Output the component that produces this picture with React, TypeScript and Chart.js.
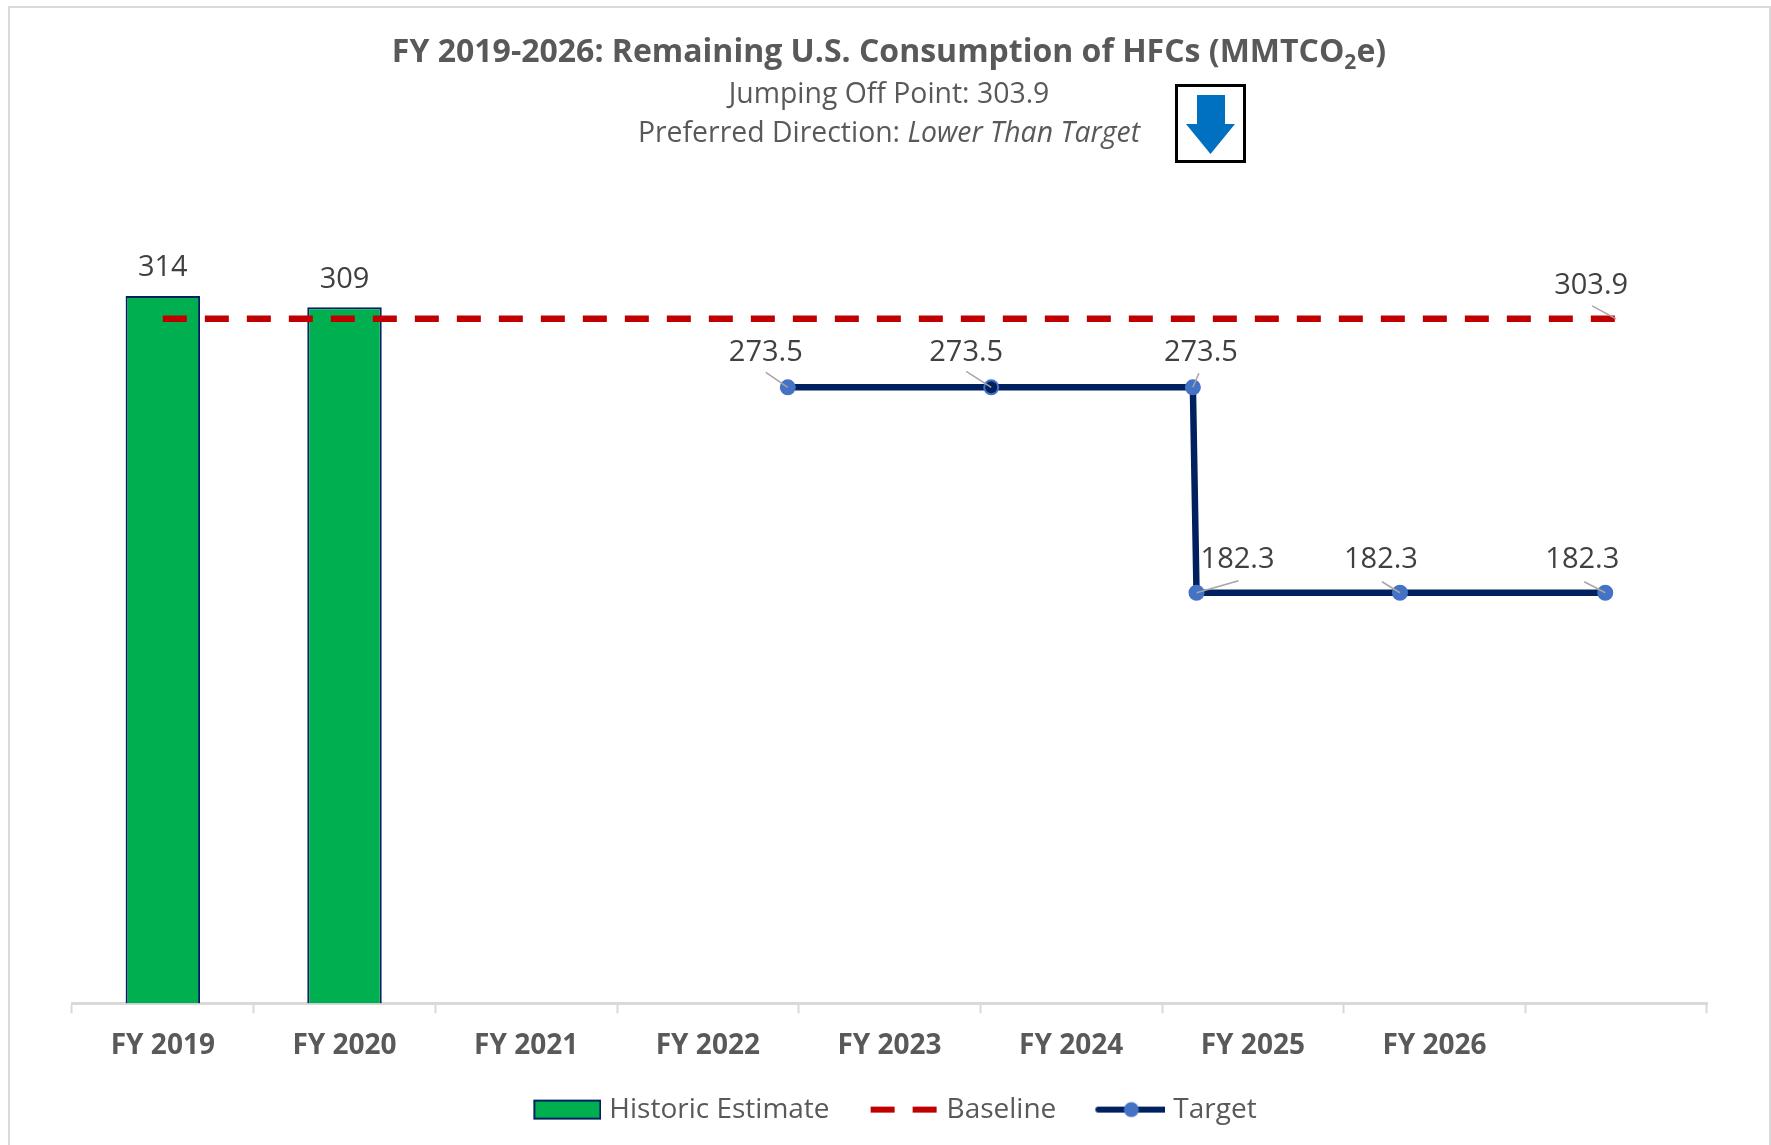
import React, { useEffect, useRef } from "react";
import { Chart, registerables } from "chart.js";

Chart.register(...registerables);

const categories = ["FY 2019", "FY 2020", "FY 2021", "FY 2022", "FY 2023", "FY 2024", "FY 2025", "FY 2026", ""];
const historicEstimate = [314, 309, null, null, null, null, null, null, null];
const baseline = [303.9, 303.9, 303.9, 303.9, 303.9, 303.9, 303.9, 303.9, 303.9];
const targetX = [3.44, 4.56, 5.67, 5.69, 6.81, 7.94];
const targetY = [273.5, 273.5, 273.5, 182.3, 182.3, 182.3];

const FONT = '"Open Sans", sans-serif';
const NAVY = "#002060";
const MARKER = "#4472c4";
const RED = "#c00000";
const GREEN = "#00b050";

// label placement relative to each point: [label dx, label dy, leader dx, leader dy]
const barLabelOffset = [0, -28];
const baselineLabel = [-25, -33, -24, -13];
const targetLabels = [
  [-22, -35, -22, -15],
  [-25, -35, -25, -16],
  [8, -35, 6, -14],
  [41, -33, 42, -12],
  [-19, -33, -18, -11],
  [-23, -33, -21, -11],
];

function swatch(draw: (c: CanvasRenderingContext2D) => void) {
  const cv = document.createElement("canvas");
  cv.width = 97;
  cv.height = 26;
  const c = cv.getContext("2d")!;
  c.translate(27, 0);
  draw(c);
  return cv;
}

const labelPlugin = {
  id: "pointLabels",
  afterDatasetsDraw(chart: any) {
    const { ctx } = chart;
    ctx.save();
    ctx.font = `29px ${FONT}`;
    ctx.fillStyle = "#404040";
    ctx.textAlign = "center";
    ctx.textBaseline = "middle";
    const text = (v: number, d: number) => v.toFixed(d);
    const leader = (x: number, y: number, lx: number, ly: number) => {
      ctx.strokeStyle = "#a6a6a6";
      ctx.lineWidth = 1.5;
      ctx.beginPath();
      ctx.moveTo(x, y);
      ctx.lineTo(x + lx, y + ly);
      ctx.stroke();
    };
    chart.getDatasetMeta(0).data.forEach((el: any, i: number) => {
      const v = historicEstimate[i];
      if (v == null) return;
      ctx.fillText(text(v, 0), el.x + barLabelOffset[0], el.y + barLabelOffset[1]);
    });
    const last = chart.getDatasetMeta(1).data[baseline.length - 1];
    leader(last.x, last.y, baselineLabel[2], baselineLabel[3]);
    ctx.fillText(text(baseline[baseline.length - 1], 1), last.x + baselineLabel[0], last.y + baselineLabel[1]);
    chart.getDatasetMeta(2).data.forEach((el: any, i: number) => {
      const o = targetLabels[i];
      leader(el.x, el.y, o[2], o[3]);
      ctx.fillText(text(targetY[i], 1), el.x + o[0], el.y + o[1]);
    });
    ctx.restore();
  },
};

const legendShift = {
  id: "legendShift",
  afterLayout(chart: any) {
    const l = chart.legend;
    l.left -= 6;
    l.right -= 6;
    l.top -= 1.4;
    l.bottom -= 1.4;
  },
};

export default function App() {
  const ref = useRef<HTMLCanvasElement>(null);
  useEffect(() => {
    const swatches = [
      swatch((c) => {
        c.fillStyle = GREEN;
        c.strokeStyle = NAVY;
        c.lineWidth = 2;
        c.fillRect(3, 4, 66, 18);
        c.strokeRect(3, 4, 66, 18);
      }),
      swatch((c) => {
        c.fillStyle = RED;
        c.fillRect(2, 10, 24, 6);
        c.fillRect(44, 10, 24, 6);
      }),
      swatch((c) => {
        c.strokeStyle = NAVY;
        c.lineWidth = 6;
        c.lineCap = "round";
        c.beginPath();
        c.moveTo(3, 13);
        c.lineTo(69, 13);
        c.stroke();
        c.fillStyle = MARKER;
        c.beginPath();
        c.arc(36, 13, 7.5, 0, Math.PI * 2);
        c.fill();
      }),
    ];
    const chart = new Chart(ref.current!, {
      type: "bar",
      data: {
        labels: categories,
        datasets: [
          {
            label: "Historic Estimate",
            data: historicEstimate,
            backgroundColor: GREEN,
            borderColor: NAVY,
            borderWidth: 2,
            grouped: false,
            categoryPercentage: 1,
            barPercentage: 0.41,
            order: 3,
          },
          {
            type: "line",
            label: "Baseline",
            data: baseline,
            borderColor: RED,
            backgroundColor: RED,
            borderWidth: 6.5,
            borderDash: [24, 18],
            pointRadius: 0,
            fill: false,
            order: 2,
          },
          {
            type: "line",
            label: "Target",
            xAxisID: "x2",
            data: targetX.map((x, i) => ({ x, y: targetY[i] })),
            borderColor: NAVY,
            backgroundColor: MARKER,
            borderWidth: 6.5,
            tension: 0,
            pointRadius: 7,
            pointBorderWidth: 2,
            pointBorderColor: MARKER,
            pointBackgroundColor: [MARKER, NAVY, MARKER, MARKER, MARKER, MARKER],
            fill: false,
            order: 1,
          },
        ] as any,
      },
      options: {
        responsive: false,
        animation: false,
        layout: { padding: { left: 72, right: 64, top: 215, bottom: 10 } },
        scales: {
          x: {
            type: "category",
            offset: true,
            grid: {
              offset: true,
              drawOnChartArea: false,
              drawTicks: true,
              tickLength: 10,
              tickColor: "#d9d9d9",
              tickWidth: 2,
            },
            border: { color: "#d9d9d9", width: 3 },
            ticks: {
              color: "#595959",
              font: { family: FONT, size: 28, weight: "bold" },
              padding: 16,
              maxRotation: 0,
              autoSkip: false,
            },
          },
          x2: { type: "linear", display: false, offset: false, min: -0.5, max: 8.5 },
          y: { display: false, min: 0, max: 350 },
        },
        plugins: {
          title: { display: false },
          tooltip: { enabled: false },
          legend: {
            display: true,
            position: "bottom",
            labels: {
              usePointStyle: true,
              pointStyleWidth: 85,
              color: "#595959",
              font: { family: FONT, size: 28 },
              padding: 18,
              generateLabels: (c: any) =>
                Chart.defaults.plugins.legend.labels
                  .generateLabels(c)
                  .sort((a: any, b: any) => a.datasetIndex - b.datasetIndex)
                  .map((it: any, i: number) => ({
                    ...it,
                    pointStyle: swatches[i],
                    fontColor: "#595959",
                  })),
            },
          },
        },
      } as any,
      plugins: [labelPlugin, legendShift],
    } as any);
    return () => chart.destroy();
  }, []);

  const center: React.CSSProperties = {
    position: "absolute",
    left: 0,
    width: 1782,
    textAlign: "center",
    fontFamily: FONT,
    color: "#595959",
    whiteSpace: "nowrap",
  };

  return (
    <div style={{ position: "fixed", left: 0, top: 0, width: 1771, height: 1145, background: "#fff", overflow: "hidden" }}>
      <div
        style={{
          position: "absolute",
          left: 8,
          top: 6,
          width: 1759,
          height: 1200,
          border: "2px solid #d9d9d9",
        }}
      />
      <canvas ref={ref} width={1771} height={1145} style={{ position: "absolute", left: 0, top: 0 }} />
      <div style={{ ...center, top: 28, left: -2, fontSize: 32, fontWeight: 700, lineHeight: "44px" }}>
        FY 2019-2026: Remaining U.S. Consumption of HFCs (MMTCO
        <sub style={{ fontSize: 21, lineHeight: 0 }}>2</sub>e)
      </div>
      <div style={{ ...center, top: 74, left: -2, fontSize: 28.4, lineHeight: "36px" }}>Jumping Off Point: 303.9</div>
      <div style={{ ...center, top: 113, left: -2, fontSize: 28.4, lineHeight: "36px" }}>
        Preferred Direction: <i>Lower Than Target</i>
      </div>
      <svg style={{ position: "absolute", left: 1175, top: 84 }} width={71} height={79}>
        <rect x={1.5} y={1.5} width={68} height={76} fill="#fff" stroke="#000" strokeWidth={3} />
        <polygon points="22,11 50,11 50,40 60,40 35.5,70 11,40 22,40" fill="#0070c0" />
      </svg>
    </div>
  );
}
